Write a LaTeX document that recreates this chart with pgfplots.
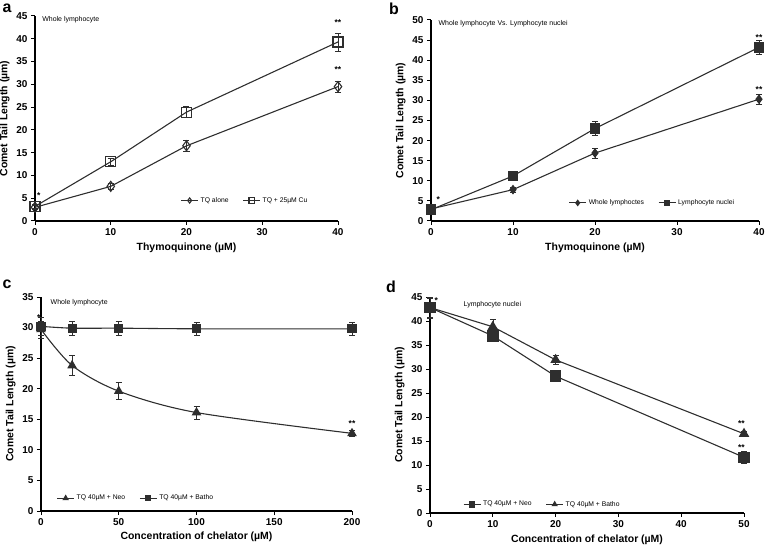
\documentclass[border=0pt]{standalone}
\usepackage{fontspec}
\setmainfont{Liberation Sans}
\usepackage{pgfplots}
\pgfplotsset{compat=1.18}
\definecolor{ln}{HTML}{2E2E2E}
\pgfplotsset{
  panel/.style={
    scale only axis,
    axis lines*=left,
    axis line style={-, line width=1.1pt, black},
    tick align=outside,
    major tick length=4bp,
    tick style={line width=1pt, black},
    xtick pos=bottom, ytick pos=left,
    /pgf/number format/assume math mode=true,
    tick label style={font=\bfseries\fontsize{10}{12}\selectfont},
    label style={font=\bfseries\fontsize{10.5}{12}\selectfont},
    enlargelimits=false,
    clip=false,
    legend style={draw=none, fill=none, font=\fontsize{6.8}{8}\selectfont, legend columns=2,
      /tikz/every even column/.append style={column sep=12bp}},
    legend image post style={mark size=2.6bp},
    cycle list={{ln}},
  },
  ser/.style={line width=1.1pt, color=ln, mark options={solid},
    error bars/.cd, y dir=both, y explicit,
    error bar style={line width=0.6pt, color=ln},
    error mark options={rotate=90, mark size=3bp, line width=0.6pt, color=ln}},
}
\tikzset{
  ann/.style={font=\fontsize{7}{8}\selectfont, anchor=west},
  star/.style={font=\bfseries\fontsize{8.5}{8}\selectfont, inner sep=0pt},
}
\begin{document}
\begin{tikzpicture}
\path[use as bounding box] (0,0) rectangle (766bp,548bp);
% ---------- a ----------
\begin{axis}[panel, at={(35bp,327bp)}, anchor=south west, width=303bp, height=205bp,
  xmin=0, xmax=40, ymin=0, ymax=45, xtick={0,10,20,30,40}, ytick={0,5,...,45},
  xlabel={Thymoquinone (µM)}, ylabel={Comet Tail Length (µm)},
  legend style={at={(0.47,0.10)}, anchor=west}]
\addplot[mark=diamond, mark size=5bp, mark options={fill=white, line width=0.8pt}, ser]
  coordinates {(0,3.0)+-(0,0.5) (10,7.6)+-(0,0.6) (20,16.5)+-(0,1.2) (40,29.5)+-(0,1.2)};
\addlegendentry{TQ alone}
\addplot[mark=square, mark size=5bp, mark options={fill=white, line width=0.8pt}, ser]
  coordinates {(0,3.2)+-(0,0.5) (10,13.0)+-(0,0.7) (20,23.9)+-(0,1.2) (40,39.3)+-(0,2.0)};
\addlegendentry{TQ + 25µM Cu}
\node[star] at (axis cs:0.5,5.6) {*};
\node[star] at (axis cs:40,43.5) {**};
\node[star] at (axis cs:40,33.2) {**};
\node[ann] at (axis cs:0.5,44.2) {Whole lymphocyte};
\end{axis}
\node[font=\bfseries\fontsize{16}{16}\selectfont] at (7bp,540bp) {a};
% ---------- b ----------
\begin{axis}[panel, at={(431bp,327bp)}, anchor=south west, width=328bp, height=201bp,
  xmin=0, xmax=40, ymin=0, ymax=50, xtick={0,10,20,30,40}, ytick={0,5,...,50},
  xlabel={Thymoquinone (µM)}, ylabel={Comet Tail Length (µm)},
  legend style={at={(0.41,0.09)}, anchor=west}]
\addplot[mark=diamond*, mark size=4bp, mark options={fill=black}, ser]
  coordinates {(0,3.0)+-(0,0.5) (10,7.8)+-(0,0.6) (20,16.9)+-(0,1.3) (40,30.3)+-(0,1.3)};
\addlegendentry{Whole lymphoctes}
\addplot[mark=square*, mark size=4.8bp, mark options={fill=black}, ser]
  coordinates {(0,2.8)+-(0,0.5) (10,11.2)+-(0,0.7) (20,23.0)+-(0,1.7) (40,43.2)+-(0,1.7)};
\addlegendentry{Lymphocyte nuclei}
\node[star] at (axis cs:0.9,5.3) {*};
\node[star] at (axis cs:40,45.6) {**};
\node[star] at (axis cs:40,32.8) {**};
\node[ann] at (axis cs:0.5,49.0) {Whole lymphocyte Vs. Lymphocyte nuclei};
\end{axis}
\node[font=\bfseries\fontsize{16}{16}\selectfont] at (394bp,539bp) {b};
% ---------- c ----------
\begin{axis}[panel, at={(41bp,37bp)}, anchor=south west, width=311bp, height=214bp,
  xmin=0, xmax=200, ymin=0, ymax=35, xtick={0,50,100,150,200}, ytick={0,5,...,35},
  xlabel={Concentration of chelator (µM)}, ylabel={Comet Tail Length (µm)},
  legend style={at={(0.04,0.06)}, anchor=west}]
\addplot[smooth, mark=triangle*, mark size=4.5bp, mark options={fill=black}, ser]
  coordinates {(0,29.7)+-(0,1.4) (20,23.8)+-(0,1.6) (50,19.6)+-(0,1.4) (100,16.1)+-(0,1.1) (200,12.7)+-(0,0.5)};
\addlegendentry{TQ 40µM + Neo}
\addplot[smooth, mark=square*, mark size=4bp, mark options={fill=black}, ser]
  coordinates {(0,30.2)+-(0,1.4) (20,29.9)+-(0,1.2) (50,29.9)+-(0,1.1) (100,29.8)+-(0,1.1) (200,29.8)+-(0,1.1)};
\addlegendentry{TQ 40µM + Batho}
\node[star] at (axis cs:-1.5,31.6) {*};
\node[star] at (axis cs:200,14.3) {**};
\node[ann] at (axis cs:4,34.0) {Whole lymphocyte};
\end{axis}
\node[font=\bfseries\fontsize{16}{16}\selectfont] at (7bp,264bp) {c};
% ---------- d ----------
\begin{axis}[panel, at={(430bp,35bp)}, anchor=south west, width=314bp, height=216bp,
  xmin=0, xmax=50, ymin=0, ymax=45, xtick={0,10,20,30,40,50}, ytick={0,5,...,45},
  xlabel={Concentration of chelator (µM)}, ylabel={Comet Tail Length (µm)},
  legend style={at={(0.095,0.04)}, anchor=west}]
\addplot[mark=square*, mark size=5.2bp, mark options={fill=black}, ser]
  coordinates {(0,42.8)+-(0,2.2) (10,36.9)+-(0,1.0) (20,28.5)+-(0,1.0) (50,11.6)+-(0,1.2)};
\addlegendentry{TQ 40µM + Neo}
\addplot[mark=triangle*, mark size=5bp, mark options={fill=black}, ser]
  coordinates {(0,42.8)+-(0,2.0) (10,38.8)+-(0,1.6) (20,31.9)+-(0,0.9) (50,16.5)+-(0,0.5)};
\addlegendentry{TQ 40µM + Batho}
\node[star] at (axis cs:1.0,44.2) {*};
\node[star] at (axis cs:49.6,18.6) {**};
\node[star] at (axis cs:49.6,13.6) {**};
\node[ann] at (axis cs:4.8,43.3) {Lymphocyte nuclei};
\end{axis}
\node[font=\bfseries\fontsize{16}{16}\selectfont] at (391bp,261bp) {d};
\end{tikzpicture}
\end{document}
